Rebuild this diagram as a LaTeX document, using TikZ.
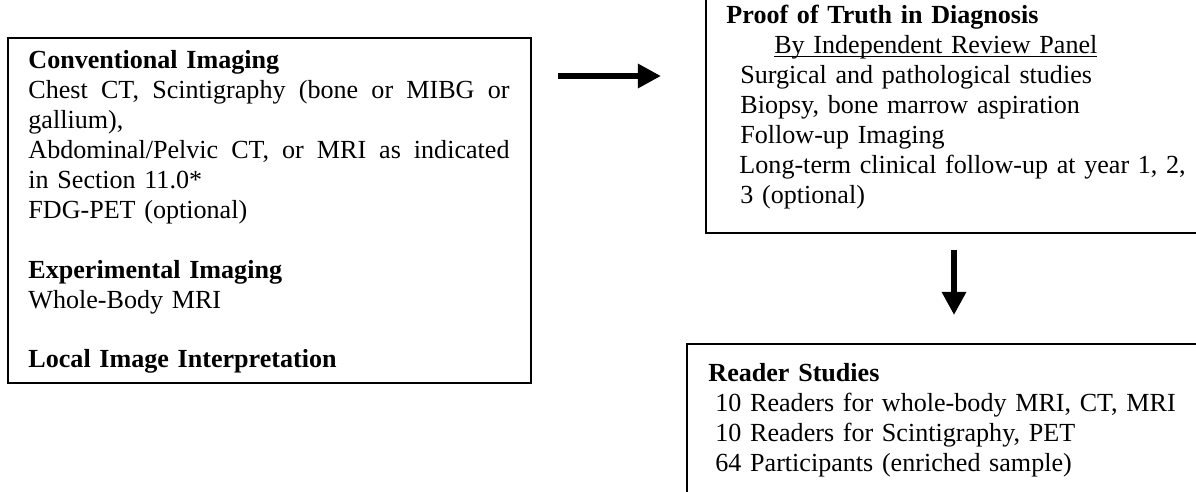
\documentclass[tikz,border=0pt]{standalone}
\usepackage{fontspec}
\setmainfont{Liberation Serif}
\usetikzlibrary{arrows.meta,fit,positioning}
\tikzset{%
  panel/.style={draw,line width=0.8pt,inner sep=0pt},
  body/.style={inner sep=0pt,text width=250pt,align=left,anchor=base west,font=\fontsize{12pt}{13.8pt}\selectfont},
  blockarrow/.style={line width=3.2pt,-{Triangle[length=10.6pt,width=10.6pt]}},
}
\newcommand{\wordline}[1]{\makebox[221.3pt][s]{\spaceskip=0.25em plus 2em\relax #1}}
\newcommand{\wordul}[1]{\setbox0\hbox{#1}\rlap{\rule[-1.8pt]{\wd0}{0.5pt}}\box0}

\begin{document}
\begin{tikzpicture}[x=0.46pt,y=-0.46pt]
      \useasboundingbox (0,0) rectangle (1196,491);
      \clip (0,0) rectangle (1196,491);

      \coordinate (convNW) at (8,38);
      \coordinate (convSE) at (531,383);
      \coordinate (truthNW) at (706,-20);
      \coordinate (truthSE) at (1230,233);
      \coordinate (readNW) at (687,344);
      \coordinate (readSE) at (1230,530);

      \node[panel,fit=(convNW)(convSE)] (conv) {};
      \node[panel,fit=(truthNW)(truthSE)] (truth) {};
      \node[panel,fit=(readNW)(readSE)] (read) {};

      \begin{scope}
        \clip (convNW) rectangle (531,372);
        \node[body] (convtext) at (28,68) {\textbf{Conventional Imaging}\\
          \wordline{Chest CT, Scintigraphy (bone or MIBG or}\\
          gallium),\\
          \wordline{Abdominal/Pelvic CT, or MRI as indicated}\\
          in Section 11.0*\\
          FDG-PET (optional)\\[13.8pt]
          \textbf{Experimental Imaging}\\
          Whole-Body MRI\\[13.8pt]
          \textbf{Local Image Interpretation}};
      \end{scope}

      \node[body] (truthtext) at (726,23) {\textbf{Proof of Truth in Diagnosis}\\
        \hspace*{22pt}\wordul{By Independent Review Panel}\\
        \hspace*{6.4pt}Surgical and pathological studies\\
        \hspace*{6.4pt}Biopsy, bone marrow aspiration\\
        \hspace*{6.4pt}Follow-up Imaging\\
        \hspace*{6pt}Long-term clinical follow-up at year 1, 2,\\
        \hspace*{6.4pt}3 (optional)};

      \node[body] (readtext) at (708,381) {\textbf{Reader Studies}\\
        \hspace*{3.2pt}10 Readers for whole-body MRI, CT, MRI\\
        \hspace*{3.2pt}10 Readers for Scintigraphy, PET\\
        \hspace*{3.2pt}64 Participants (enriched sample)};

      \coordinate (rightfrom) at (558,76);
      \coordinate (rightto) at (661,76);
      \coordinate (downfrom) at (954,250);
      \coordinate (downto) at (954,315);

      \draw[blockarrow] (rightfrom) -- (rightto);
      \draw[blockarrow] (downfrom) -- (downto);
    \end{tikzpicture}
\end{document}
